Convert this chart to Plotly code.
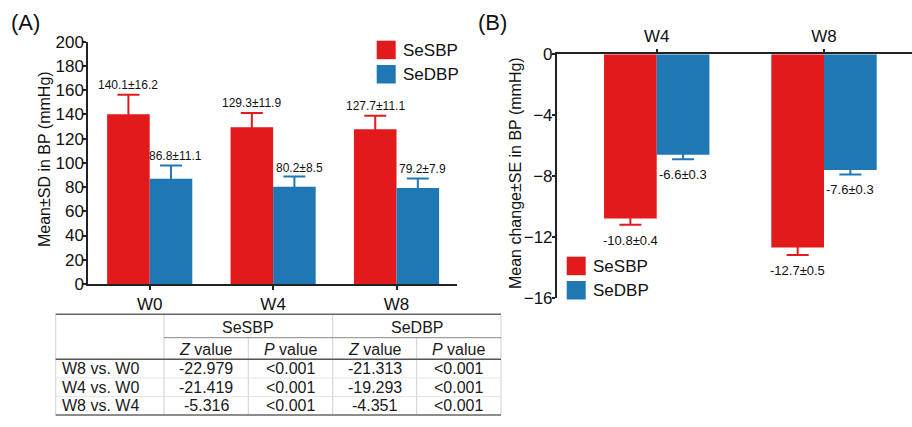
import plotly.graph_objects as go

# ---------------- data ----------------
weeks_a = ["W0", "W4", "W8"]
sbp_mean = [140.1, 129.3, 127.7]
sbp_sd = [16.2, 11.9, 11.1]
dbp_mean = [86.8, 80.2, 79.2]
dbp_sd = [11.1, 8.5, 7.9]

weeks_b = ["W4", "W8"]
sbp_change = [-10.8, -12.7]
sbp_se = [0.4, 0.5]
dbp_change = [-6.6, -7.6]
dbp_se = [0.3, 0.3]

series_names = ["SeSBP", "SeDBP"]
table_sub_headers = ["<i>Z</i> value", "<i>P</i> value", "<i>Z</i> value", "<i>P</i> value"]
table_row_labels = ["W8 vs. W0", "W4 vs. W0", "W8 vs. W4"]
sbp_z = ["-22.979", "-21.419", "-5.316"]
sbp_p = ["<0.001", "<0.001", "<0.001"]
dbp_z = ["-21.313", "-19.293", "-4.351"]
dbp_p = ["<0.001", "<0.001", "<0.001"]

# ---------------- style ----------------
RED = "#E31A1C"
BLUE = "#1F78B4"
AXC = "#222222"
FONT = "Arial, Liberation Sans, Helvetica, sans-serif"
W, H = 912, 427


def px(x):
    return x / W


def py(y):
    return 1 - y / H


wa = 0.345
wb = 0.315
xa = list(range(len(weeks_a)))
xb = list(range(len(weeks_b)))

fig = go.Figure()

# Panel A bars (downward half of the error bar is hidden inside the bar)
fig.add_trace(go.Bar(
    x=xa, y=sbp_mean, width=wa, offset=-wa, marker=dict(color=RED, line=dict(width=0)),
    error_y=dict(type="data", array=sbp_sd, color=RED, thickness=2, width=11),
    xaxis="x", yaxis="y", showlegend=False, name=series_names[0]))
fig.add_trace(go.Bar(
    x=xa, y=dbp_mean, width=wa, offset=0, marker=dict(color=BLUE, line=dict(width=0)),
    error_y=dict(type="data", array=dbp_sd, color=BLUE, thickness=2, width=11),
    xaxis="x", yaxis="y", showlegend=False, name=series_names[1]))

# Panel B bars
fig.add_trace(go.Bar(
    x=xb, y=sbp_change, width=wb, offset=-wb, marker=dict(color=RED, line=dict(width=0)),
    error_y=dict(type="data", array=sbp_se, color=RED, thickness=2, width=11),
    xaxis="x2", yaxis="y2", showlegend=False, name=series_names[0]))
fig.add_trace(go.Bar(
    x=xb, y=dbp_change, width=wb, offset=0, marker=dict(color=BLUE, line=dict(width=0)),
    error_y=dict(type="data", array=dbp_se, color=BLUE, thickness=2, width=11),
    xaxis="x2", yaxis="y2", showlegend=False, name=series_names[1]))

annotations = []
shapes = []

# value labels panel A
for i in xa:
    annotations.append(dict(x=i - wa / 2, y=sbp_mean[i] + sbp_sd[i], xref="x", yref="y",
                            text=f"{sbp_mean[i]}±{sbp_sd[i]}", showarrow=False,
                            xanchor="center", yanchor="bottom", yshift=1,
                            font=dict(size=12, color="#111")))
    annotations.append(dict(x=i + wa / 2, y=dbp_mean[i] + dbp_sd[i], xref="x", yref="y",
                            text=f"{dbp_mean[i]}±{dbp_sd[i]}", showarrow=False,
                            xanchor="center", yanchor="bottom", yshift=0, xshift=5,
                            font=dict(size=12, color="#111")))
# value labels panel B
for i in xb:
    annotations.append(dict(x=i - wb / 2, y=sbp_change[i] - sbp_se[i], xref="x2", yref="y2",
                            text=f"{sbp_change[i]}±{sbp_se[i]}", showarrow=False,
                            xanchor="center", yanchor="top", yshift=-6,
                            font=dict(size=13, color="#111")))
    annotations.append(dict(x=i + wb / 2, y=dbp_change[i] - dbp_se[i], xref="x2", yref="y2",
                            text=f"{dbp_change[i]}±{dbp_se[i]}", showarrow=False,
                            xanchor="center", yanchor="top", yshift=-6,
                            font=dict(size=13, color="#111")))

# panel letters
annotations.append(dict(x=px(9), y=py(23), xref="paper", yref="paper", text="(A)",
                        showarrow=False, xanchor="left", yanchor="middle", font=dict(size=22)))
annotations.append(dict(x=px(476), y=py(23), xref="paper", yref="paper", text="(B)",
                        showarrow=False, xanchor="left", yanchor="middle", font=dict(size=22)))

# y-axis titles
annotations.append(dict(x=px(44), y=py(159), xref="paper", yref="paper",
                        text="Mean±SD in BP (mmHg)", textangle=-90, showarrow=False,
                        xanchor="center", yanchor="middle", font=dict(size=16)))
annotations.append(dict(x=px(515), y=py(173), xref="paper", yref="paper",
                        text="Mean change±SE in BP (mmHg)", textangle=-90, showarrow=False,
                        xanchor="center", yanchor="middle", font=dict(size=16)))


# legends
def legend(x0, ys):
    for k, (name, col) in enumerate(zip(series_names, [RED, BLUE])):
        top = ys[k]
        shapes.append(dict(type="rect", xref="paper", yref="paper",
                           x0=px(x0), x1=px(x0 + 19), y0=py(top + 18.5), y1=py(top),
                           fillcolor=col, line=dict(width=0)))
        annotations.append(dict(x=px(x0 + 24), y=py(top + 9.5), xref="paper", yref="paper",
                                text=name, showarrow=False, xanchor="left", yanchor="middle",
                                font=dict(size=17)))


legend(376.7, [40.7, 65])
legend(566.7, [256.7, 281])

# ---------------- table ----------------
tx = [55.7, 164, 248.3, 332.7, 416.7, 501]
t_top, t_mid, t_head, t_bot = 314.3, 337.7, 359.3, 415
row_h = (t_bot - t_head) / len(table_row_labels)
LG = "#cfcfcf"


def hline(x0, x1, y, color, wdt):
    shapes.append(dict(type="line", xref="paper", yref="paper", x0=px(x0), x1=px(x1),
                       y0=py(y), y1=py(y), line=dict(color=color, width=wdt)))


def vline(x, y0, y1, color, wdt):
    shapes.append(dict(type="line", xref="paper", yref="paper", x0=px(x), x1=px(x),
                       y0=py(y0), y1=py(y1), line=dict(color=color, width=wdt)))


for x in [tx[0], tx[1], tx[3], tx[5]]:
    vline(x, t_top, t_bot, LG, 1)
for x in [tx[2], tx[4]]:
    vline(x, t_mid, t_bot, LG, 1)
for r in range(1, len(table_row_labels)):
    hline(tx[0], tx[5], t_head + r * row_h, "#e6e6e6", 1)
hline(tx[0], tx[5], t_top, "#666666", 1.5)
hline(tx[1], tx[5], t_mid, "#888888", 1)
hline(tx[0], tx[5], t_head, "#555555", 1.5)
hline(tx[0], tx[5], t_bot, "#666666", 1.5)

TF = dict(size=16, color="#1a1a1a")
for g, name in enumerate(series_names):
    xc = (tx[1 + 2 * g] + tx[3 + 2 * g]) / 2
    annotations.append(dict(x=px(xc), y=py((t_top + t_mid) / 2 + 1), xref="paper", yref="paper",
                            text=name, showarrow=False, xanchor="center", yanchor="middle", font=TF))
for c, hd in enumerate(table_sub_headers):
    xc = (tx[1 + c] + tx[2 + c]) / 2
    annotations.append(dict(x=px(xc), y=py((t_mid + t_head) / 2 + 1), xref="paper", yref="paper",
                            text=hd, showarrow=False, xanchor="center", yanchor="middle", font=TF))
cols = [sbp_z, sbp_p, dbp_z, dbp_p]
for r, lab in enumerate(table_row_labels):
    yc = t_head + (r + 0.5) * row_h
    annotations.append(dict(x=px(60), y=py(yc), xref="paper", yref="paper", text=lab,
                            showarrow=False, xanchor="left", yanchor="middle", font=TF))
    for c, col in enumerate(cols):
        xc = (tx[1 + c] + tx[2 + c]) / 2
        annotations.append(dict(x=px(xc), y=py(yc), xref="paper", yref="paper",
                                text=col[r].replace("<", "&lt;"), showarrow=False,
                                xanchor="center", yanchor="middle", font=TF))

axis_common = dict(showline=True, linecolor=AXC, linewidth=1.5, ticks="outside",
                   tickcolor=AXC, tickwidth=1.5, showgrid=False, zeroline=False,
                   automargin=False, tickfont=dict(size=17, color="#111"))

fig.update_layout(
    width=W, height=H,
    margin=dict(l=0, r=0, t=0, b=0, pad=0),
    paper_bgcolor="white", plot_bgcolor="white",
    barmode="overlay",
    font=dict(family=FONT, color="#111"),
    showlegend=False,
    xaxis=dict(domain=[px(88), px(457)], range=[-0.5, 2.49], tickvals=xa, ticktext=weeks_a,
               anchor="y", ticklen=4, **axis_common),
    yaxis=dict(domain=[py(284), py(41.7)], range=[0, 200], dtick=20, anchor="x",
               ticklen=3, ticklabelstandoff=-4, **axis_common),
    xaxis2=dict(domain=[px(556.7), 1.0], range=[-0.598, 1.526], tickvals=xb, ticktext=weeks_b,
                side="top", anchor="y2", ticklen=4, **axis_common),
    yaxis2=dict(domain=[py(297.7), py(54.3)], range=[-16, 0], tickvals=[0, -4, -8, -12, -16],
                anchor="x2", ticklen=3, ticklabelstandoff=-4, **axis_common),
    annotations=annotations,
    shapes=shapes,
)

fig.write_html("out.html", config={"displayModeBar": False},
               post_script="document.body.style.margin='0';document.body.style.overflow='hidden';")
